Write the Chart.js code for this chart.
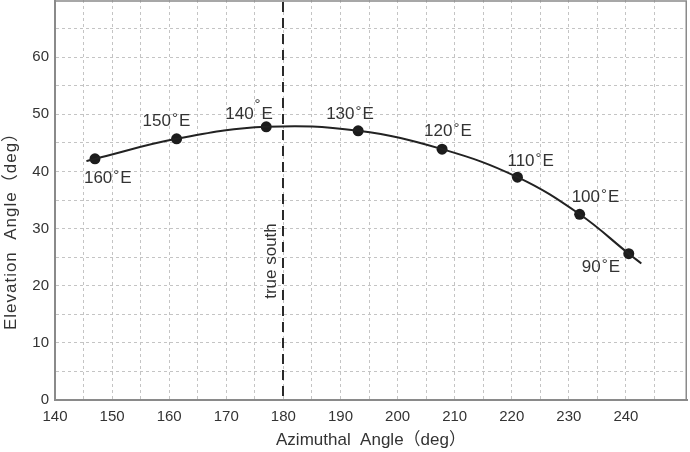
<!DOCTYPE html>
<html><head><meta charset="utf-8">
<script src="https://cdn.jsdelivr.net/npm/chart.js@4/dist/chart.umd.min.js"></script>
<style>html,body{margin:0;padding:0;background:#fff}#wrap{width:690px;height:452px;position:relative}</style>
</head><body><div id="wrap"><canvas id="c" width="690" height="452"></canvas></div>
<script>
// ---- data ----
const longitudeLabels = ['160', '150', '140', '130', '120', '110', '100', '90'];
const azimuth   = [147.0, 161.3, 177.0, 193.1, 207.8, 221.0, 231.9, 240.5];
const elevation = [42.2, 45.7, 47.8, 47.1, 43.9, 39.0, 32.5, 25.6];
const curveAzimuth   = [145.5, 147.0, 161.3, 177.0, 193.1, 207.8, 221.0, 231.9, 240.5, 242.7];
const curveElevation = [41.8, 42.2, 45.7, 47.8, 47.1, 43.9, 39.0, 32.5, 25.6, 23.9];
const trueSouthAzimuth = 180;
const xGridValues = [140,145,150,155,160,165,170,175,180,185,190,195,200,205,210,215,220,225,230,235,240,245];
const xTickLabels = [140,150,160,170,180,190,200,210,220,230,240];
const yGridValues = [0,5,10,15,20,25,30,35,40,45,50,55,60,65];
const yTickLabels = [0,10,20,30,40,50,60];
const xTitle = 'Azimuthal  Angle（deg）';
const yTitle = 'Elevation  Angle（deg）';
const southText = 'true south';

// ---- styles (label placement relative to marker, px) ----
const labelOffsets = [[-11,24],[-34,-13],[-41,-8],[-32,-12],[-18,-13],[-10,-11],[-8,-12],[-47,18]];
const degreeRaise = [0,0,7,0,0,0,0,0];
const FONT = "'Liberation Sans', Arial, 'Noto Sans CJK SC', sans-serif";
const TXT = '#333';

const overlay = {
  id: 'overlay',
  beforeDatasetsDraw(chart) {
    const {ctx, chartArea: a, scales: {x}} = chart;
    const sx = Math.round(x.getPixelForValue(trueSouthAzimuth));
    ctx.save();
    ctx.strokeStyle = '#2a2a2a'; ctx.lineWidth = 2; ctx.setLineDash([10, 6]);
    ctx.beginPath(); ctx.moveTo(sx, a.top + 2); ctx.lineTo(sx, a.bottom); ctx.stroke();
    ctx.restore();
  },
  afterDatasetsDraw(chart) {
    const {ctx, chartArea: a, scales: {x, y}} = chart;
    ctx.save();
    // frame top/right
    ctx.strokeStyle = '#8a8a8a'; ctx.lineWidth = 1.5;
    ctx.beginPath();
    ctx.moveTo(a.left, a.top + 1); ctx.lineTo(a.right - 0.75, a.top + 1); ctx.lineTo(a.right - 0.75, a.bottom);
    ctx.stroke();
    // true south text
    const sx = x.getPixelForValue(trueSouthAzimuth);
    ctx.fillStyle = TXT;
    ctx.save();
    ctx.translate(sx - 7.5, 261); ctx.rotate(-Math.PI / 2);
    ctx.font = '17px ' + FONT; ctx.textAlign = 'center'; ctx.textBaseline = 'alphabetic';
    ctx.fillText(southText, 0, 0);
    ctx.restore();
    // point labels
    ctx.textAlign = 'left'; ctx.textBaseline = 'alphabetic';
    for (let i = 0; i < azimuth.length; i++) {
      const px = x.getPixelForValue(azimuth[i]);
      const py = y.getPixelForValue(elevation[i]);
      const lx = px + labelOffsets[i][0], ly = py + labelOffsets[i][1];
      ctx.font = '17px ' + FONT;
      ctx.fillText(longitudeLabels[i], lx, ly);
      const w = ctx.measureText(longitudeLabels[i]).width;
      ctx.font = '15px ' + FONT;
      ctx.fillText('°', lx + w + 1, ly - 3 - degreeRaise[i]);
      ctx.font = '17px ' + FONT;
      ctx.fillText('E', lx + w + 8, ly);
    }
    // axis titles
    ctx.font = '17px ' + FONT; ctx.textAlign = 'center';
    ctx.fillText(xTitle, (a.left + a.right) / 2, 445);
    ctx.save();
    ctx.translate(15.5, 227); ctx.rotate(-Math.PI / 2);
    ctx.letterSpacing = '1px';
    ctx.fillText(yTitle, 0, 0);
    ctx.restore();
    ctx.restore();
  }
};

new Chart(document.getElementById('c'), {
  type: 'scatter',
  data: {
    datasets: [
      {
        type: 'line',
        data: curveAzimuth.map((v, i) => ({x: v, y: curveElevation[i]})),
        borderColor: '#222', borderWidth: 2, pointRadius: 0, tension: 0.4, fill: false
      },
      {
        data: azimuth.map((v, i) => ({x: v, y: elevation[i]})),
        backgroundColor: '#1c1c1c', borderWidth: 0, pointRadius: 5.5, showLine: false
      }
    ]
  },
  options: {
    responsive: false, animation: false, devicePixelRatio: 1,
    layout: {autoPadding: false, padding: {top: 0, right: 3, left: 0, bottom: 0}},
    plugins: {legend: {display: false}, tooltip: {enabled: false}},
    scales: {
      x: {
        type: 'linear', min: 140, max: 250.7,
        afterBuildTicks: s => { s.ticks = xGridValues.map(v => ({value: v})); },
        afterFit: s => { s.height = 52; s.paddingLeft = 0; s.paddingRight = 0; },
        ticks: {autoSkip: false, maxRotation: 0, padding: 8, color: TXT, font: {family: FONT, size: 15},
          callback: v => xTickLabels.includes(v) ? String(v) : ''},
        grid: {color: '#c4c4c4', lineWidth: 1, drawTicks: false},
        border: {color: '#8a8a8a', width: 2, dash: [3, 3]}
      },
      y: {
        type: 'linear', min: 0, max: 70,
        afterBuildTicks: s => { s.ticks = yGridValues.map(v => ({value: v})); },
        afterFit: s => { s.width = 55; s.paddingTop = 0; s.paddingBottom = 0; },
        ticks: {autoSkip: false, padding: 6, color: TXT, font: {family: FONT, size: 15},
          callback: v => yTickLabels.includes(v) ? String(v) : ''},
        grid: {color: '#c4c4c4', lineWidth: 1, drawTicks: false},
        border: {color: '#8a8a8a', width: 2, dash: [3, 3]}
      }
    }
  },
  plugins: [overlay]
});
</script></body></html>
